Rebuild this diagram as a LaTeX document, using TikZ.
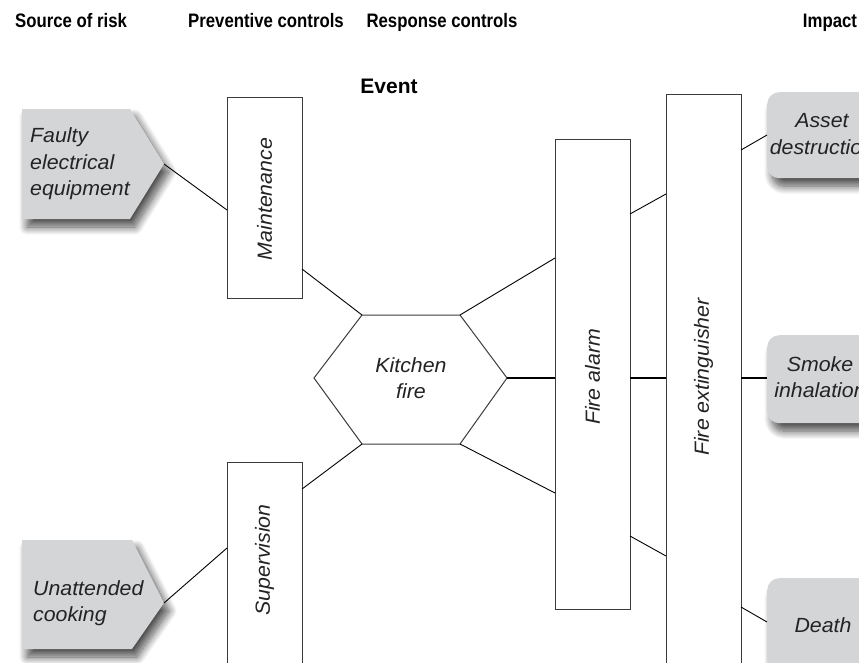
\documentclass[tikz,border=0pt]{standalone}
\usepackage{fontspec}
\setmainfont{Liberation Sans}
\newfontfamily\headfont{Liberation Sans}[FakeStretch=0.86]
\newfontfamily\labelfont{Liberation Sans}[FakeStretch=1.04]
\usetikzlibrary{shadows.blur}
\definecolor{panelgray}{RGB}{212,213,215}
\definecolor{edgegray}{RGB}{60,60,60}
\definecolor{labelink}{RGB}{35,35,35}
\begin{document}
\begin{tikzpicture}[x=1pt,y=-1pt,
  head/.style={font=\headfont\bfseries\fontsize{19.5}{22}\selectfont, anchor=base},
  lbl/.style={font=\labelfont\itshape\fontsize{20.5}{26.5}\selectfont, text=labelink, inner sep=0pt},
  ctrlbox/.style={draw=edgegray, line width=1pt, fill=white, inner sep=0pt},
  link/.style={black, line width=0.9pt},
  softshadow/.style={blur shadow={shadow xshift=5pt, shadow yshift=-8pt,
      shadow blur radius=8pt, shadow blur steps=14, shadow opacity=70}},
  riskshape/.style={fill=panelgray, softshadow},
  impactbox/.style={fill=panelgray, rounded corners=12pt, softshadow, inner sep=0pt}]
\useasboundingbox (0,0) rectangle (859,662);
\clip (0,0) rectangle (859,662);

% column headings
\node[head] (h-src)  at (71,27)  {Source of risk};
\node[head] (h-prev) at (266,27) {Preventive controls};
\node[head] (h-resp) at (442,27) {Response controls};
\node[head] (h-imp)  at (830,27) {Impact};
\node[head, font=\bfseries\fontsize{21}{24}\selectfont] (h-evt) at (389,93) {Event};

% sources of risk (arrow-shaped panels)
\path[riskshape] (22,109) -- (130,109) -- (164,164) -- (130,219) -- (22,219) -- cycle;
\coordinate (src1) at (164,164);
\node[lbl, align=left, anchor=west] (t-src1) at (30,164) {Faulty\\electrical\\equipment};

\path[riskshape] (22,540) -- (132,540) -- (164,603) -- (132,649) -- (22,649) -- cycle;
\coordinate (src2) at (164,603);
\node[lbl, align=left, anchor=west] (t-src2) at (33,603) {Unattended\\cooking};

% preventive controls
\node[ctrlbox, minimum width=75pt, minimum height=201pt] (maint) at (264.5,197.5) {};
\node[lbl, rotate=90] (t-maint) at (264.5,199) {Maintenance};
\node[ctrlbox, minimum width=75pt, minimum height=240pt] (superv) at (264.5,582) {};
\node[lbl, rotate=90] (t-superv) at (264.5,560) {Supervision};

% the event
\coordinate (hx-tl) at (362,315);
\coordinate (hx-tr) at (460,315);
\coordinate (hx-r)  at (507,378);
\coordinate (hx-br) at (460,444);
\coordinate (hx-bl) at (362,444);
\coordinate (hx-l)  at (314,378);
\draw[edgegray, line width=1pt, fill=white] (hx-tl) -- (hx-tr) -- (hx-r) -- (hx-br) -- (hx-bl) -- (hx-l) -- cycle;
\node[lbl, align=center] (t-event) at (411,378) {Kitchen\\fire};

% response controls
\node[ctrlbox, minimum width=75pt, minimum height=470pt] (alarm) at (592.5,374) {};
\node[lbl, rotate=90] (t-alarm) at (592.5,377) {Fire alarm};
\node[ctrlbox, minimum width=75pt, minimum height=600pt] (ext) at (703.5,394) {};
\node[lbl, rotate=90] (t-ext) at (703.5,377) {Fire extinguisher};

% impacts
\node[impactbox, minimum width=120pt, minimum height=86pt, anchor=north west] (imp1) at (767,92) {};
\node[lbl, align=center] (t-imp1) at (822,134) {Asset\\destruction};
\node[impactbox, minimum width=120pt, minimum height=88pt, anchor=north west] (imp2) at (767,335) {};
\node[lbl, align=center] (t-imp2) at (820,377) {Smoke\\inhalation};
\node[impactbox, minimum width=120pt, minimum height=94pt, anchor=north west] (imp3) at (767,578) {};
\node[lbl] (t-imp3) at (823,625) {Death};

% attachment points on the control boxes
\coordinate (m-in)  at (227,210);
\coordinate (m-out) at (302,269);
\coordinate (s-in)  at (227,548);
\coordinate (s-out) at (302,489);
\coordinate (a-in1) at (555,258);
\coordinate (a-in2) at (555,378);
\coordinate (a-in3) at (555,493);
\coordinate (a-out1) at (630,214);
\coordinate (a-out2) at (630,378);
\coordinate (a-out3) at (630,536);
\coordinate (e-in1) at (666,194);
\coordinate (e-in2) at (666,378);
\coordinate (e-in3) at (666,556);
\coordinate (e-out1) at (741,150);
\coordinate (e-out2) at (741,378);
\coordinate (e-out3) at (741,607);
\coordinate (i-in1) at (767,135);
\coordinate (i-in2) at (767,378);
\coordinate (i-in3) at (767,622);

% connectors
\draw[link] (src1) -- (m-in);
\draw[link] (src2) -- (s-in);
\draw[link] (m-out) -- (hx-tl);
\draw[link] (s-out) -- (hx-bl);
\draw[link] (hx-tr) -- (a-in1);
\draw[link, line width=1.3pt] (hx-r) -- (a-in2);
\draw[link] (hx-br) -- (a-in3);
\draw[link] (a-out1) -- (e-in1);
\draw[link, line width=1.3pt] (a-out2) -- (e-in2);
\draw[link] (a-out3) -- (e-in3);
\draw[link] (e-out1) -- (i-in1);
\draw[link, line width=1.3pt] (e-out2) -- (i-in2);
\draw[link] (e-out3) -- (i-in3);
\end{tikzpicture}
\end{document}
